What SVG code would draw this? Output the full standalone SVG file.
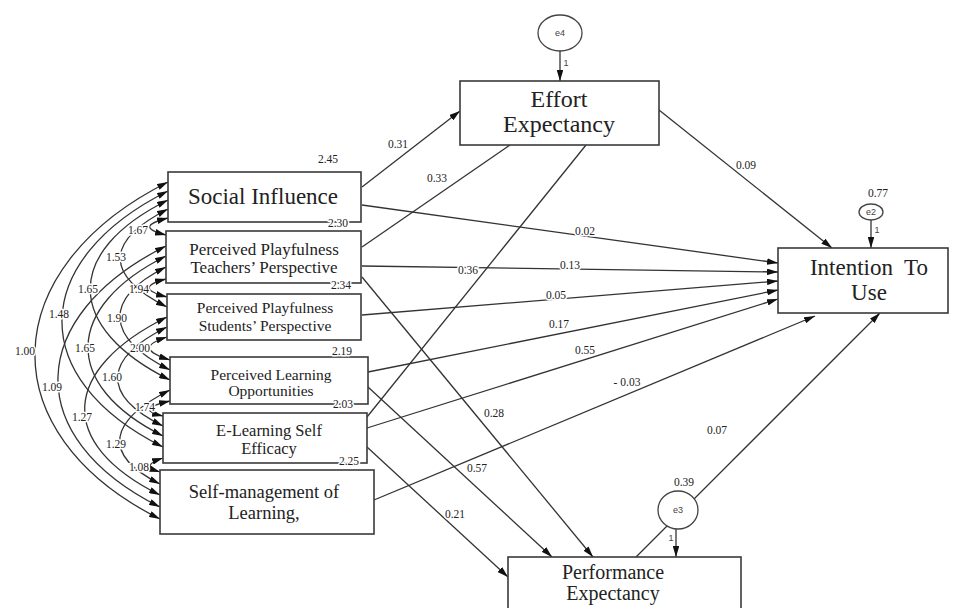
<svg xmlns="http://www.w3.org/2000/svg" width="955" height="608" viewBox="0 0 955 608">
<style>
.box{fill:#fff;stroke:#3a3a3a;stroke-width:1.6}
.lbl{fill:#222;text-anchor:middle}
.num{font-size:11.5px;fill:#222;text-anchor:middle;paint-order:stroke;stroke:#fff;stroke-width:3px;stroke-linejoin:round}
.sm{font-size:9px;fill:#444;text-anchor:middle}
.err{fill:#fff;stroke:#444;stroke-width:1.3}
.c path,.c line{fill:none;stroke:#333;stroke-width:1.3}
.arr{marker-end:url(#ah)}
.cov{marker-start:url(#ah);marker-end:url(#ah)}
</style>
<defs>
<marker id="ah" viewBox="0 0 10 6" refX="10" refY="3" markerWidth="11" markerHeight="6.6" orient="auto-start-reverse" markerUnits="userSpaceOnUse">
<path d="M0,0 L10,3 L0,6 z" fill="#111"/>
</marker>
</defs>
<rect width="955" height="608" fill="#fff"/>

<g id="connectors" class="c">
<path class="cov" d="M168,182 C-4,268 -12,433 160,519"/>
<path class="cov" d="M168,191 C30,260 25,378 163,447"/>
<path class="cov" d="M166,246 C26,316 20,437 160,507"/>
<path class="cov" d="M168,200 C63,252 65,328 170,380"/>
<path class="cov" d="M166,256 C64,307 61,385 163,436"/>
<path class="cov" d="M167,317 C62,369 55,443 160,495"/>
<path class="cov" d="M168,209 C105,241 104,275 167,307"/>
<path class="cov" d="M166,267 C102,299 106,338 170,370"/>
<path class="cov" d="M167,327 C104,358 100,395 163,426"/>
<path class="cov" d="M170,390 C110,420 100,454 160,484"/>
<path class="cov" d="M168,218 C145,224 143,229 166,235"/>
<path class="cov" d="M166,279 C143,285 144,291 167,297"/>
<path class="cov" d="M167,337 C142,345 145,352 170,360"/>
<path class="cov" d="M170,401 C148,406 141,411 163,416"/>
<path class="cov" d="M163,458 C148,463 145,467 160,472"/>
<line class="arr" x1="362" y1="187" x2="460" y2="111"/>
<line class="arr" x1="362" y1="205" x2="778" y2="263"/>
<line x1="362" y1="247" x2="510" y2="145"/>
<line class="arr" x1="362" y1="266" x2="778" y2="272"/>
<line class="arr" x1="362" y1="277" x2="593" y2="557"/>
<line class="arr" x1="362" y1="315" x2="778" y2="281"/>
<line class="arr" x1="368" y1="372" x2="778" y2="290"/>
<line class="arr" x1="368" y1="387" x2="552" y2="557"/>
<line x1="367" y1="417" x2="586" y2="145"/>
<line class="arr" x1="367" y1="428" x2="778" y2="299"/>
<line class="arr" x1="367" y1="447" x2="508" y2="577"/>
<line class="arr" x1="374" y1="500" x2="815" y2="316"/>
<line class="arr" x1="659" y1="110" x2="832" y2="248"/>
<line class="arr" x1="636" y1="557" x2="880" y2="313"/>
<line class="arr" x1="560" y1="51" x2="560" y2="81"/>
<line class="arr" x1="871" y1="220" x2="871" y2="248"/>
<line class="arr" x1="676" y1="529" x2="676" y2="557"/>
</g>

<g font-family="'Liberation Serif', 'DejaVu Serif', serif">
<g id="social-influence">
<rect class="box" x="168" y="172" width="193" height="50"/>
<text class="lbl" x="263" y="204" font-size="23">Social Influence</text>
</g>
<g id="pp-teachers">
<rect class="box" x="166" y="231" width="195" height="52"/>
<text class="lbl" x="264" y="255" font-size="17">Perceived Playfulness</text>
<text class="lbl" x="264" y="273" font-size="17">Teachers’ Perspective</text>
</g>
<g id="pp-students">
<rect class="box" x="167" y="294" width="194" height="46"/>
<text class="lbl" x="265" y="313" font-size="15.5">Perceived Playfulness</text>
<text class="lbl" x="265" y="331" font-size="15.5">Students’ Perspective</text>
</g>
<g id="learning-opportunities">
<rect class="box" x="170" y="357" width="198" height="47"/>
<text class="lbl" x="271" y="380" font-size="15.5">Perceived Learning</text>
<text class="lbl" x="271" y="396" font-size="15.5">Opportunities</text>
</g>
<g id="self-efficacy">
<rect class="box" x="163" y="413" width="204" height="50"/>
<text class="lbl" x="269" y="436" font-size="16.5">E-Learning Self</text>
<text class="lbl" x="269" y="454" font-size="16.5">Efficacy</text>
</g>
<g id="self-management">
<rect class="box" x="160" y="470" width="214" height="64"/>
<text class="lbl" x="264" y="498" font-size="18.5">Self-management of</text>
<text class="lbl" x="264" y="519" font-size="18.5">Learning,</text>
</g>
<g id="effort-expectancy">
<rect class="box" x="460" y="81" width="199" height="64"/>
<text class="lbl" x="559" y="107" font-size="24">Effort</text>
<text class="lbl" x="559" y="132" font-size="24">Expectancy</text>
</g>
<g id="intention-to-use">
<rect class="box" x="778" y="248" width="170" height="65"/>
<text class="lbl" x="869" y="275" font-size="23" xml:space="preserve">Intention  To</text>
<text class="lbl" x="869" y="300" font-size="23">Use</text>
</g>
<g id="performance-expectancy">
<rect class="box" x="508" y="557" width="233" height="60"/>
<text class="lbl" x="613" y="579" font-size="20">Performance</text>
<text class="lbl" x="613" y="600" font-size="20">Expectancy</text>
</g>
<g id="e4">
<ellipse class="err" cx="560" cy="33" rx="22" ry="18"/>
<text class="sm" x="560" y="36" font-family="'Liberation Sans', sans-serif">e4</text>
<text class="sm" x="566" y="66" font-family="'Liberation Sans', sans-serif">1</text>
</g>
<g id="e2">
<ellipse class="err" cx="871" cy="212" rx="12" ry="8"/>
<text class="sm" x="871" y="215" font-family="'Liberation Sans', sans-serif">e2</text>
<text class="sm" x="877" y="233" font-family="'Liberation Sans', sans-serif">1</text>
<text class="num" x="878" y="197">0.77</text>
</g>
<g id="e3">
<ellipse class="err" cx="678" cy="510" rx="20" ry="19"/>
<text class="sm" x="678" y="513" font-family="'Liberation Sans', sans-serif">e3</text>
<text class="sm" x="671" y="541" font-family="'Liberation Sans', sans-serif">1</text>
<text class="num" x="684" y="486">0.39</text>
</g>

<g id="labels">
<text class="num" x="398" y="148">0.31</text>
<text class="num" x="437" y="182">0.33</text>
<text class="num" x="585" y="235">0.02</text>
<text class="num" x="468" y="274">0.36</text>
<text class="num" x="570" y="269">0.13</text>
<text class="num" x="556" y="299">0.05</text>
<text class="num" x="559" y="328">0.17</text>
<text class="num" x="585" y="354">0.55</text>
<text class="num" x="627" y="386">- 0.03</text>
<text class="num" x="494" y="417">0.28</text>
<text class="num" x="477" y="472">0.57</text>
<text class="num" x="455" y="518">0.21</text>
<text class="num" x="717" y="434">0.07</text>
<text class="num" x="746" y="169">0.09</text>
<text class="num" x="328" y="163">2.45</text>
<text class="num" x="338" y="227">2.30</text>
<text class="num" x="341" y="289">2.34</text>
<text class="num" x="342" y="355">2.19</text>
<text class="num" x="343" y="408">2.03</text>
<text class="num" x="349" y="465">2.25</text>
<text class="num" x="138" y="234">1.67</text>
<text class="num" x="116" y="261">1.53</text>
<text class="num" x="88" y="293">1.65</text>
<text class="num" x="139" y="293">1.94</text>
<text class="num" x="59" y="318">1.48</text>
<text class="num" x="117" y="322">1.90</text>
<text class="num" x="25" y="355">1.00</text>
<text class="num" x="85" y="352">1.65</text>
<text class="num" x="140" y="352">2.00</text>
<text class="num" x="112" y="381">1.60</text>
<text class="num" x="52" y="391">1.09</text>
<text class="num" x="145" y="411">1.74</text>
<text class="num" x="82" y="421">1.27</text>
<text class="num" x="116" y="448">1.29</text>
<text class="num" x="139" y="471">1.08</text>
</g>
</g>
</svg>
